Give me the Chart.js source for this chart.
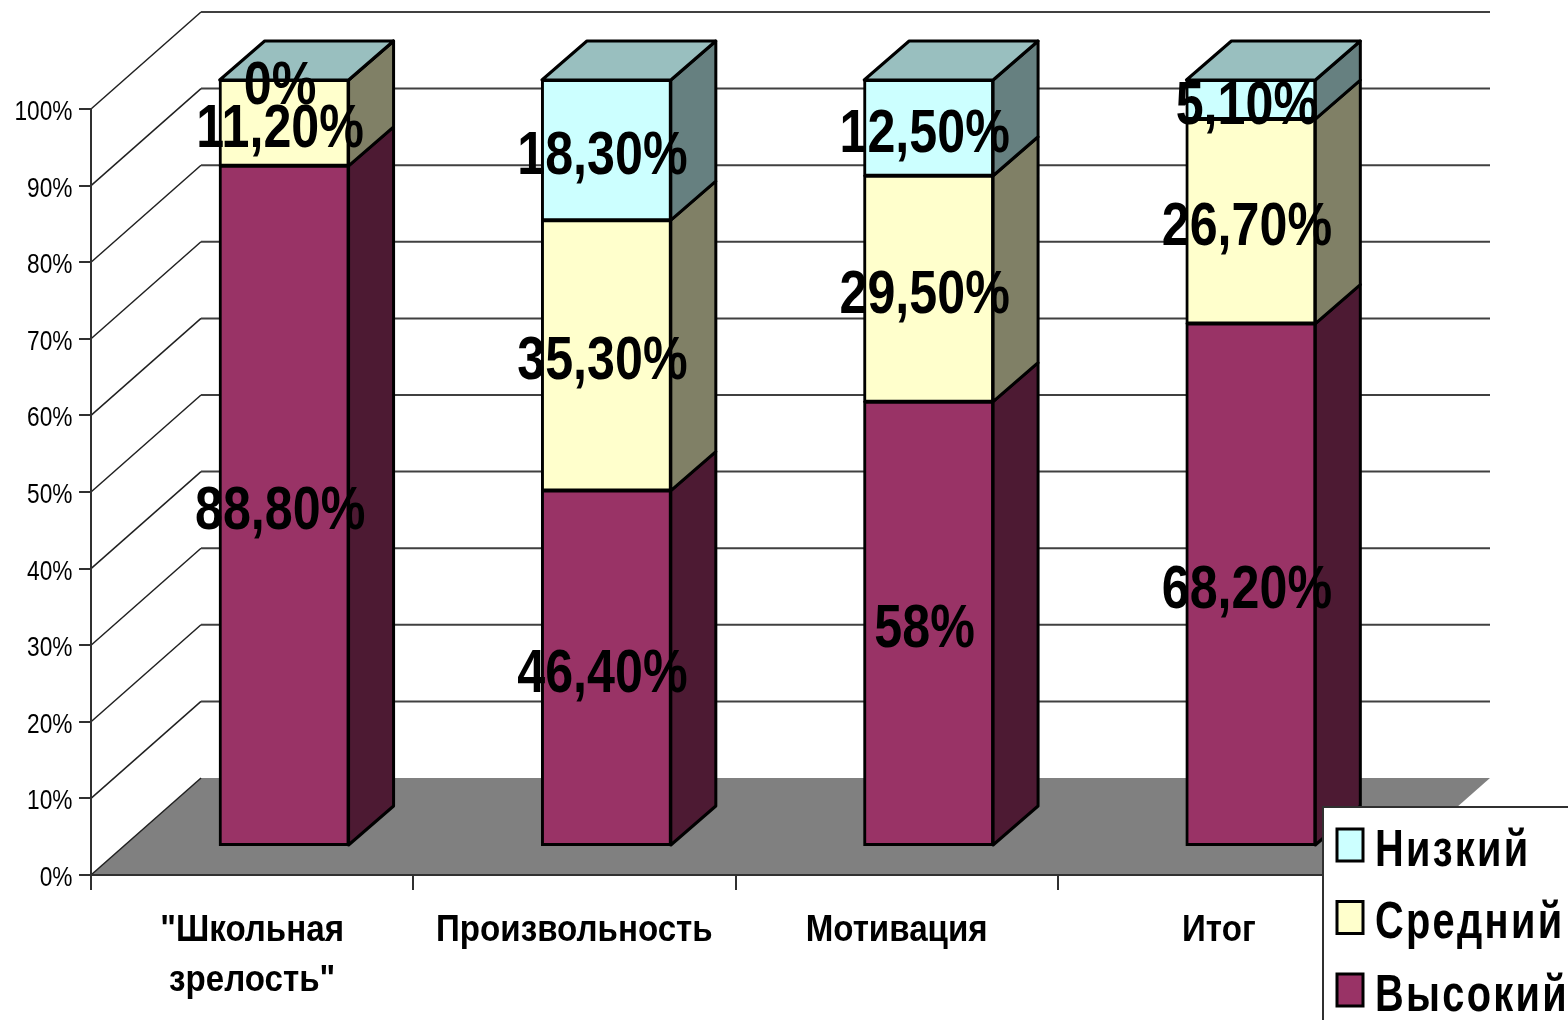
<!DOCTYPE html>
<html>
<head>
<meta charset="utf-8">
<title>Уровни</title>
<script src="https://cdn.jsdelivr.net/npm/chart.js@4"></script>
<style>
    html, body { margin: 0; padding: 0; background: #fff; overflow: hidden; }
    canvas { display: block; }
</style>
</head>
<body>
<canvas id="grafica" width="1568" height="1020"></canvas>
<script>
// Categorias y valores
var categorias = [['"Школьная', 'зрелость"'], 'Произвольность', 'Мотивация', 'Итог'];
var vysokiy = [88.8, 46.4, 58, 68.2];
var sredniy = [11.2, 35.3, 29.5, 26.7];
var nizkiy = [0, 18.3, 12.5, 5.1];

var fuente = '"Liberation Sans", sans-serif';

// Profundidad de las paredes y desplazamiento de las barras
var fondo = { x: 110, y: -97 };
var barraOff = { x: 32, y: -29 };
var barraProf = { x: 45, y: -39 };

function poligono(ctx, pts, fill, stroke, lw) {
    ctx.beginPath();
    ctx.moveTo(pts[0][0], pts[0][1]);
    for (var i = 1; i < pts.length; i++) {
        ctx.lineTo(pts[i][0], pts[i][1]);
    }
    ctx.closePath();
    if (fill) {
        ctx.fillStyle = fill;
        ctx.fill();
    }
    if (stroke) {
        ctx.strokeStyle = stroke;
        ctx.lineWidth = lw;
        ctx.lineJoin = 'round';
        ctx.stroke();
    }
}

function etiqueta(v) {
    if (Math.round(v) === v) {
        return v + '%';
    }
    return v.toFixed(2).replace('.', ',') + '%';
}

// No hay fuente angosta instalada: el texto se comprime a lo ancho
function textoAngosto(ctx, texto, x, y, sx) {
    ctx.save();
    ctx.translate(x, y);
    ctx.scale(sx, 1);
    ctx.fillText(texto, 0, 0);
    ctx.restore();
}

var paredes = {
    id: 'paredes',
    beforeDraw: function (chart) {
        var ctx = chart.ctx;
        var a = chart.chartArea;
        var ys = chart.scales.y;
        var base = ys.getPixelForValue(0);

        // Piso
        poligono(ctx, [[a.left, base], [a.right, base],
            [a.right + fondo.x, base + fondo.y], [a.left + fondo.x, base + fondo.y]], '#808080');

        // Lineas de la pared
        ys.ticks.forEach(function (t) {
            var y = ys.getPixelForValue(t.value);
            ctx.beginPath();
            ctx.moveTo(a.left, y);
            ctx.lineTo(a.left + fondo.x, y + fondo.y);
            ctx.strokeStyle = '#202020';
            ctx.lineWidth = 1.5;
            ctx.stroke();
            if (t.value > 0) {
                ctx.beginPath();
                ctx.moveTo(a.left + fondo.x, y + fondo.y);
                ctx.lineTo(a.right + fondo.x, y + fondo.y);
                ctx.strokeStyle = '#404040';
                ctx.lineWidth = 2;
                ctx.stroke();
            }
        });
    },
    beforeDatasetsDraw: function (chart) {
        var ctx = chart.ctx;
        ctx.save();
        ctx.translate(barraOff.x, barraOff.y);

        // Caras laterales y tapa, desde los elementos de la propia grafica
        var n = chart.data.datasets.length;
        chart.data.datasets.forEach(function (ds, d) {
            chart.getDatasetMeta(d).data.forEach(function (bar) {
                var p = bar.getProps(['x', 'y', 'base', 'width'], true);
                var der = p.x + p.width / 2;
                var izq = p.x - p.width / 2;
                poligono(ctx, [[der, p.base], [der + barraProf.x, p.base + barraProf.y],
                    [der + barraProf.x, p.y + barraProf.y], [der, p.y]],
                    ds.sideColor, '#000', 3);
                if (d === n - 1) {
                    poligono(ctx, [[izq, p.y], [der, p.y],
                        [der + barraProf.x, p.y + barraProf.y], [izq + barraProf.x, p.y + barraProf.y]],
                        ds.topColor, '#000', 3);
                }
            });
        });
    },
    afterDatasetsDraw: function (chart) {
        var ctx = chart.ctx;
        ctx.restore();

        // Valores sobre las barras
        ctx.save();
        ctx.fillStyle = '#000';
        ctx.font = 'bold 62px ' + fuente;
        ctx.textAlign = 'center';
        ctx.textBaseline = 'middle';
        chart.data.datasets.forEach(function (ds, d) {
            chart.getDatasetMeta(d).data.forEach(function (bar, i) {
                var p = bar.getProps(['x', 'y', 'base'], true);
                textoAngosto(ctx, etiqueta(ds.data[i]), p.x + barraOff.x - 4,
                    (p.y + p.base) / 2 + barraOff.y + 7, 0.81);
            });
        });
        ctx.restore();
    },
    afterDraw: function (chart) {
        var ctx = chart.ctx;
        var xs = chart.scales.x;
        var ys = chart.scales.y;
        ctx.save();
        ctx.fillStyle = '#000';
        ctx.textBaseline = 'middle';

        // Etiquetas del eje Y
        ctx.font = '27px ' + fuente;
        ctx.textAlign = 'right';
        ys.ticks.forEach(function (t) {
            textoAngosto(ctx, t.label, 72.5, ys.getPixelForValue(t.value) + 3.5, 0.84);
        });

        // Etiquetas del eje X
        ctx.font = 'bold 36px ' + fuente;
        ctx.textAlign = 'center';
        xs.ticks.forEach(function (t, i) {
            var lineas = [].concat(t.label);
            lineas.forEach(function (txt, j) {
                textoAngosto(ctx, txt, xs.getPixelForTick(i), xs.top + 56 + j * 50.5, 0.92);
            });
        });

        // Leyenda, en orden inverso
        ctx.textAlign = 'left';
        ctx.fillStyle = '#fff';
        ctx.fillRect(1323, 807, 260, 230);
        ctx.strokeStyle = '#303030';
        ctx.lineWidth = 2;
        ctx.strokeRect(1323, 807, 260, 230);

        var ds = chart.data.datasets.slice().reverse();
        ctx.font = 'bold 52px ' + fuente;
        ctx.letterSpacing = '3px';
        ds.forEach(function (d, i) {
            var y = 845 + i * 72.5;
            ctx.fillStyle = d.backgroundColor;
            ctx.strokeStyle = '#000';
            ctx.lineWidth = 3;
            ctx.fillRect(1337, y - 16, 26, 32);
            ctx.strokeRect(1337, y - 16, 26, 32);
            ctx.fillStyle = '#000';
            textoAngosto(ctx, d.label, 1375, y + 6.5, 0.765);
        });
        ctx.restore();
    }
};

var chart = new Chart(document.getElementById('grafica').getContext('2d'), {
    type: 'bar',
    data: {
        labels: categorias,
        datasets: [
            { label: 'Высокий', data: vysokiy, backgroundColor: '#993366', sideColor: '#4d1a33', topColor: '#804055', clip: false },
            { label: 'Средний', data: sredniy, backgroundColor: '#ffffcc', sideColor: '#808066', topColor: '#bfbf99', clip: false },
            { label: 'Низкий', data: nizkiy, backgroundColor: '#ccffff', sideColor: '#668080', topColor: '#99bfbf', clip: false }
        ]
    },
    options: {
        responsive: false,
        animation: false,
        layout: { padding: { top: 109, right: 188, left: 0, bottom: 0 } },
        datasets: { bar: { borderColor: '#000', borderWidth: 3, borderSkipped: false, inflateAmount: 1, barPercentage: 0.4, categoryPercentage: 1 } },
        plugins: { legend: { display: false }, tooltip: { enabled: false } },
        scales: {
            x: {
                stacked: true,
                afterFit: function (s) { s.height = 145; },
                border: { color: '#303030', width: 2 },
                grid: { drawOnChartArea: false, tickLength: 15, color: '#303030', lineWidth: 2 },
                ticks: { display: false, autoSkip: false }
            },
            y: {
                stacked: true,
                min: 0,
                max: 100,
                afterFit: function (s) { s.width = 91; },
                border: { color: '#303030', width: 2 },
                grid: { drawOnChartArea: false, tickLength: 12, color: '#303030', lineWidth: 2 },
                ticks: {
                    display: false,
                    stepSize: 10,
                    callback: function (v) { return v + '%'; }
                }
            }
        }
    },
    plugins: [paredes]
});
</script>
</body>
</html>
